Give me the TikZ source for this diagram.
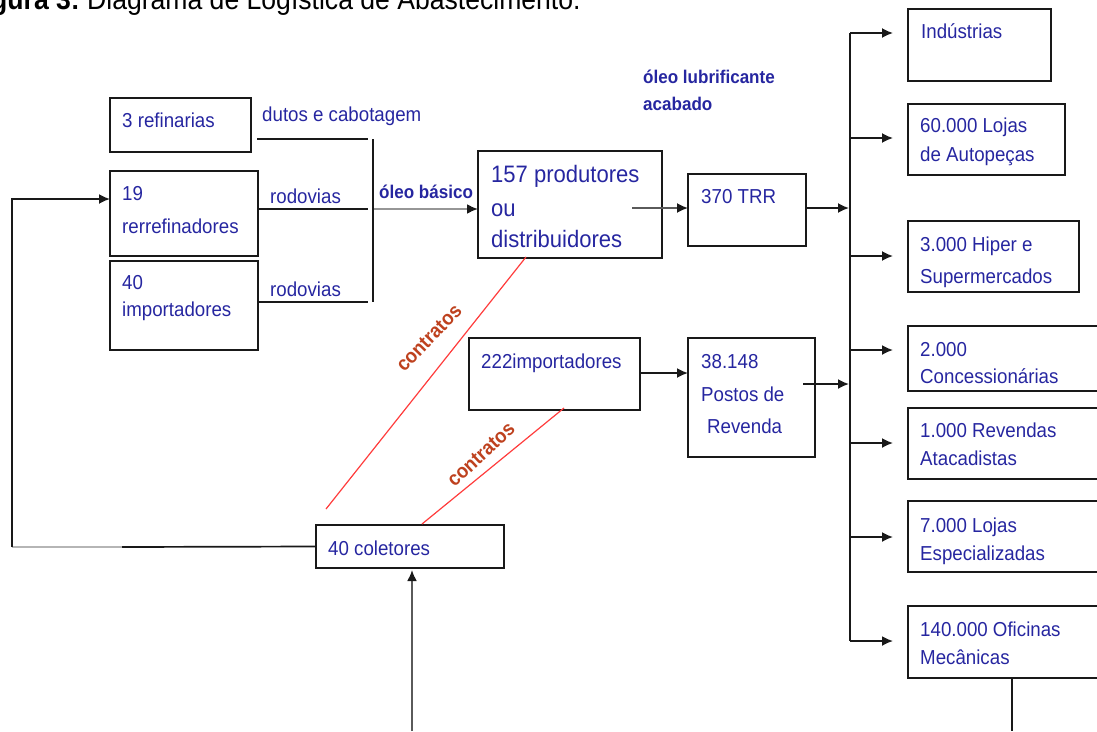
\documentclass[tikz,border=0pt]{standalone}
\usepackage{fontspec}
% slightly narrowed face, set a little larger: same widths, taller letters
\setmainfont{Liberation Sans}[FakeStretch=0.926]
\usetikzlibrary{arrows.meta}
\definecolor{tblue}{RGB}{38,38,160}
\definecolor{contr}{RGB}{190,65,30}
\definecolor{redln}{RGB}{255,60,60}
\definecolor{lc}{RGB}{25,25,25}
\definecolor{lgray}{RGB}{150,150,150}
\definecolor{dgray}{RGB}{90,90,90}
% rectangle given by its top-left and bottom-right corners
\newcommand\boxnode[5]{\node[box,minimum width={(#3)-(#1)},minimum height={(#4)-(#2)}] (#5) at (#1,#2) {};}
\begin{document}
\begin{tikzpicture}[x=1pt,y=-1pt,
  box/.style={draw=lc, line width=1.7pt, inner sep=0pt, outer sep=0pt, anchor=north west},
  txt/.style={anchor=base west, inner sep=0pt, text=tblue, font=\fontsize{20.2}{24}\selectfont},
  bigtxt/.style={txt, font=\fontsize{23.8}{28}\selectfont},
  lab/.style={anchor=base west, inner sep=0pt, text=tblue, font=\bfseries\fontsize{18.4}{22}\selectfont},
  ctr/.style={inner sep=0pt, text=contr, font=\bfseries\fontsize{20}{23}\selectfont},
  ln/.style={draw=lc, line width=1.7pt},
  tip/.style={-{Latex[length=11pt,width=10pt,color=lc]}},
  arr/.style={ln, tip},
  contrline/.style={draw=redln, line width=1.2pt}
]
\useasboundingbox (0,0) rectangle (1097,731);
\clip (0,0) rectangle (1097,731);

% caption
\node[anchor=base east, inner sep=0pt, font=\bfseries\fontsize{28.7}{32}\selectfont] (ttla) at (80,9) {Figura 3:};
\node[anchor=base west, inner sep=0pt, font=\fontsize{28.7}{32}\selectfont] (ttlb) at (87,9) {Diagrama de Logística de Abastecimento.};

% boxes
\boxnode{110}{98}{251}{152}{ref}
\boxnode{110}{171}{258}{256}{rer}
\boxnode{110}{261}{258}{350}{imp}
\boxnode{478}{151}{662}{258}{prod}
\boxnode{688}{174}{806}{246}{trr}
\boxnode{469}{338}{640}{410}{impb}
\boxnode{688}{338}{815}{457}{postos}
\boxnode{316}{525}{504}{568}{col}
\boxnode{908}{9}{1051}{81}{ind}
\boxnode{908}{104}{1065}{175}{autop}
\boxnode{908}{221}{1079}{292}{hiper}
\boxnode{908}{326}{1110}{391}{conc}
\boxnode{908}{408}{1110}{479}{atac}
\boxnode{908}{501}{1110}{572}{espec}
\boxnode{908}{606}{1110}{678}{ofic}

% box texts
\node[txt] (tref) at (122,127) {3 refinarias};
\node[txt] (trera) at (122,200) {19};
\node[txt] (trerb) at (122,233) {rerrefinadores};
\node[txt] (timpa) at (122,289) {40};
\node[txt] (timpb) at (122,316) {importadores};
\node[bigtxt] (tproda) at (491,182) {157 produtores};
\node[bigtxt] (tprodb) at (491,216) {ou};
\node[bigtxt] (tprodc) at (491,247) {distribuidores};
\node[txt] (ttrr) at (701,203) {370 TRR};
\node[txt] (timpc) at (481,368) {222importadores};
\node[txt] (tposa) at (701,368) {38.148};
\node[txt] (tposb) at (701,401) {Postos de};
\node[txt] (tposc) at (707,433) {Revenda};
\node[txt] (tcol) at (328,555) {40 coletores};
\node[txt] (tind) at (921,38) {Indústrias};
\node[txt] (tauta) at (920,132) {60.000 Lojas};
\node[txt] (tautb) at (920,161) {de Autopeças};
\node[txt] (thipa) at (920,251) {3.000 Hiper e};
\node[txt] (thipb) at (920,283) {Supermercados};
\node[txt] (tconca) at (920,356) {2.000};
\node[txt] (tconcb) at (920,383) {Concessionárias};
\node[txt] (tataa) at (920,437) {1.000 Revendas};
\node[txt] (tatab) at (920,465) {Atacadistas};
\node[txt] (tespa) at (920,532) {7.000 Lojas};
\node[txt] (tespb) at (920,560) {Especializadas};
\node[txt] (tofia) at (920,636) {140.000 Oficinas};
\node[txt] (tofib) at (920,664) {Mecânicas};

% flow labels
\node[txt] (ldutos) at (262,121) {dutos e cabotagem};
\node[txt] (lroda) at (270,203) {rodovias};
\node[txt] (lrodb) at (270,296) {rodovias};
\node[lab] (lbasico) at (379,198) {óleo básico};
\node[lab] (llubra) at (643,83) {óleo lubrificante};
\node[lab] (llubrb) at (643,110) {acabado};
\node[ctr, rotate=46] (lcontra) at (429,338) {contratos};
\node[ctr, rotate=43] (lcontrb) at (481,454.5) {contratos};

% collecting bus for base oil
\coordinate (ha1) at (257,139); \coordinate (ha2) at (368,139);
\coordinate (hb1) at (258,209); \coordinate (hb2) at (368,209);
\coordinate (hc1) at (258,302); \coordinate (hc2) at (368,302);
\coordinate (busT) at (373,139); \coordinate (busB) at (373,302);
\coordinate (busO) at (374,209); \coordinate (prodin) at (478,209);
\draw[ln] (ha1) -- (ha2);
\draw[ln] (hb1) -- (hb2);
\draw[ln] (hc1) -- (hc2);
\draw[ln] (busT) -- (busB);
\draw[draw=lgray, line width=2pt, tip] (busO) -- (prodin);

% main flow
\coordinate (prodout) at (632,208); \coordinate (trrin) at (688,208);
\draw[arr, draw=dgray] (prodout) -- (trrin);
\coordinate (trrout) at (806,208); \coordinate (trkA) at (849,208);
\draw[arr] (trrout) -- (trkA);
\coordinate (impout) at (640,373); \coordinate (posin) at (688,373);
\draw[arr] (impout) -- (posin);
\coordinate (posout) at (803,384); \coordinate (trkB) at (849,384);
\draw[arr] (posout) -- (trkB);

% distribution trunk
\coordinate (trkT) at (850,33); \coordinate (trkE) at (850,641);
\draw[ln] (trkT) -- (trkE);
\foreach \yy/\nm in {33/ind,138/autop,256/hiper,350/conc,443/atac,537/espec,641/ofic}{
  \coordinate (br-\nm) at (850,\yy);
  \coordinate (in-\nm) at (893,\yy);
  \draw[arr] (br-\nm) -- (in-\nm);
}
\coordinate (oficdown) at (1012,731);
\draw[ln] (ofic.south -| oficdown) -- (oficdown);

% collection and return loop
\coordinate (colin) at (412,731); \coordinate (colbot) at (412,570);
\draw[draw=dgray, line width=2pt, tip] (colin) -- (colbot);
\coordinate (lpa) at (122,547); \coordinate (lpb) at (12,547);
\coordinate (lpc) at (12,199); \coordinate (rerin) at (110,199);
\draw[ln] (col.west) -- (lpa);
\draw[draw=lgray!70, line width=1.7pt] (lpa) -- (lpb);
\draw[arr] (lpb) -- (lpc) -- (rerin);

% contracts
\coordinate (ca1) at (526,257); \coordinate (ca2) at (326,509);
\coordinate (cb1) at (564,408); \coordinate (cb2) at (422,524);
\draw[contrline] (ca1) -- (ca2);
\draw[contrline] (cb1) -- (cb2);
\end{tikzpicture}
\end{document}
